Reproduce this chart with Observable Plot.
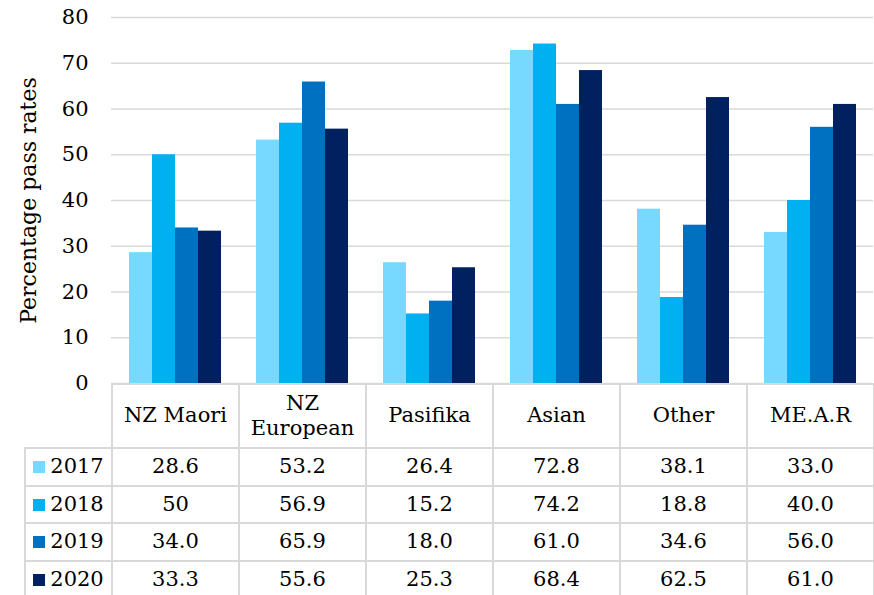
<!DOCTYPE html>
<html>
<head>
<meta charset="utf-8">
<script src="https://cdn.jsdelivr.net/npm/d3@7"></script>
<script src="https://cdn.jsdelivr.net/npm/@observablehq/plot@0.6"></script>
<style>
  html, body { margin: 0; padding: 0; background: #fff; }
  #wrap { position: relative; width: 874px; height: 595px; overflow: hidden; font-family: "DejaVu Serif", serif; }
  #wrap svg g[aria-label="y-axis label"] { font-size: 22px; }
  #tbl { position: absolute; left: 24px; top: 383px; border-collapse: collapse; table-layout: fixed; width: 849px;
         font-family: "DejaVu Serif", serif; font-size: 21px; color: #000; }
  #tbl td { border: 2px solid #d9d9d9; text-align: center; vertical-align: middle; padding: 0; line-height: 1.2; }
  #tbl td.corner { border-top: hidden; border-left: hidden; }
  #tbl tr.head { height: 64px; }
  #tbl tr.row { height: 37.5px; }
  .sw { display: inline-block; width: 12px; height: 12px; margin-right: 5px; vertical-align: 0px; }
</style>
</head>
<body>
<div id="wrap"></div>
<script>
const categories = ["NZ Maori", "NZ European", "Pasifika", "Asian", "Other", "ME.A.R"];
const years = ["2017", "2018", "2019", "2020"];
const colors = ["#77D9FF", "#00B0F0", "#0070C0", "#002060"];
const s2017 = ["28.6", "53.2", "26.4", "72.8", "38.1", "33.0"];
const s2018 = ["50", "56.9", "15.2", "74.2", "18.8", "40.0"];
const s2019 = ["34.0", "65.9", "18.0", "61.0", "34.6", "56.0"];
const s2020 = ["33.3", "55.6", "25.3", "68.4", "62.5", "61.0"];
const yTicks = [0, 10, 20, 30, 40, 50, 60, 70, 80];
const yLabel = "Percentage pass rates";

const series = [s2017, s2018, s2019, s2020];
const data = [];
years.forEach((yr, i) => {
  categories.forEach((c, j) => {
    data.push({cat: c, year: yr, value: +series[i][j], label: series[i][j]});
  });
});

const chart = Plot.plot({
  width: 874,
  height: 595,
  marginLeft: 111,
  marginRight: 1,
  marginTop: 17,
  marginBottom: 212,
  style: {fontFamily: "DejaVu Serif", fontSize: "21px", color: "#000", background: "transparent", overflow: "visible"},
  fx: {domain: categories, padding: 0, axis: null},
  x: {domain: years, paddingInner: 0, paddingOuter: 0.7, axis: null},
  y: {domain: [0, 80], ticks: yTicks, tickSize: 0, tickPadding: 23, label: yLabel, labelArrow: "none", labelAnchor: "center", labelOffset: 91},
  color: {domain: years, range: colors},
  marks: [
    Plot.gridY(yTicks, {stroke: "#d9d9d9", strokeOpacity: 1, strokeWidth: 1.6}),
    Plot.barY(data, {fx: "cat", x: "year", y: "value", fill: "year"})
  ]
});

const wrap = document.getElementById("wrap");
wrap.appendChild(chart);

// data table (legend + values)
const tbl = document.createElement("table");
tbl.id = "tbl";
const cg = document.createElement("colgroup");
[87, ...categories.map(() => 127)].forEach(w => {
  const col = document.createElement("col");
  col.style.width = w + "px";
  cg.appendChild(col);
});
tbl.appendChild(cg);
const head = document.createElement("tr");
head.className = "head";
const corner = document.createElement("td");
corner.className = "corner";
head.appendChild(corner);
categories.forEach(c => {
  const td = document.createElement("td");
  td.textContent = c;
  head.appendChild(td);
});
tbl.appendChild(head);
years.forEach((yr, i) => {
  const tr = document.createElement("tr");
  tr.className = "row";
  const th = document.createElement("td");
  const sw = document.createElement("span");
  sw.className = "sw";
  sw.style.background = colors[i];
  th.appendChild(sw);
  th.appendChild(document.createTextNode(yr));
  tr.appendChild(th);
  series[i].forEach(v => {
    const td = document.createElement("td");
    td.textContent = v;
    tr.appendChild(td);
  });
  tbl.appendChild(tr);
});
wrap.appendChild(tbl);
</script>
</body>
</html>
